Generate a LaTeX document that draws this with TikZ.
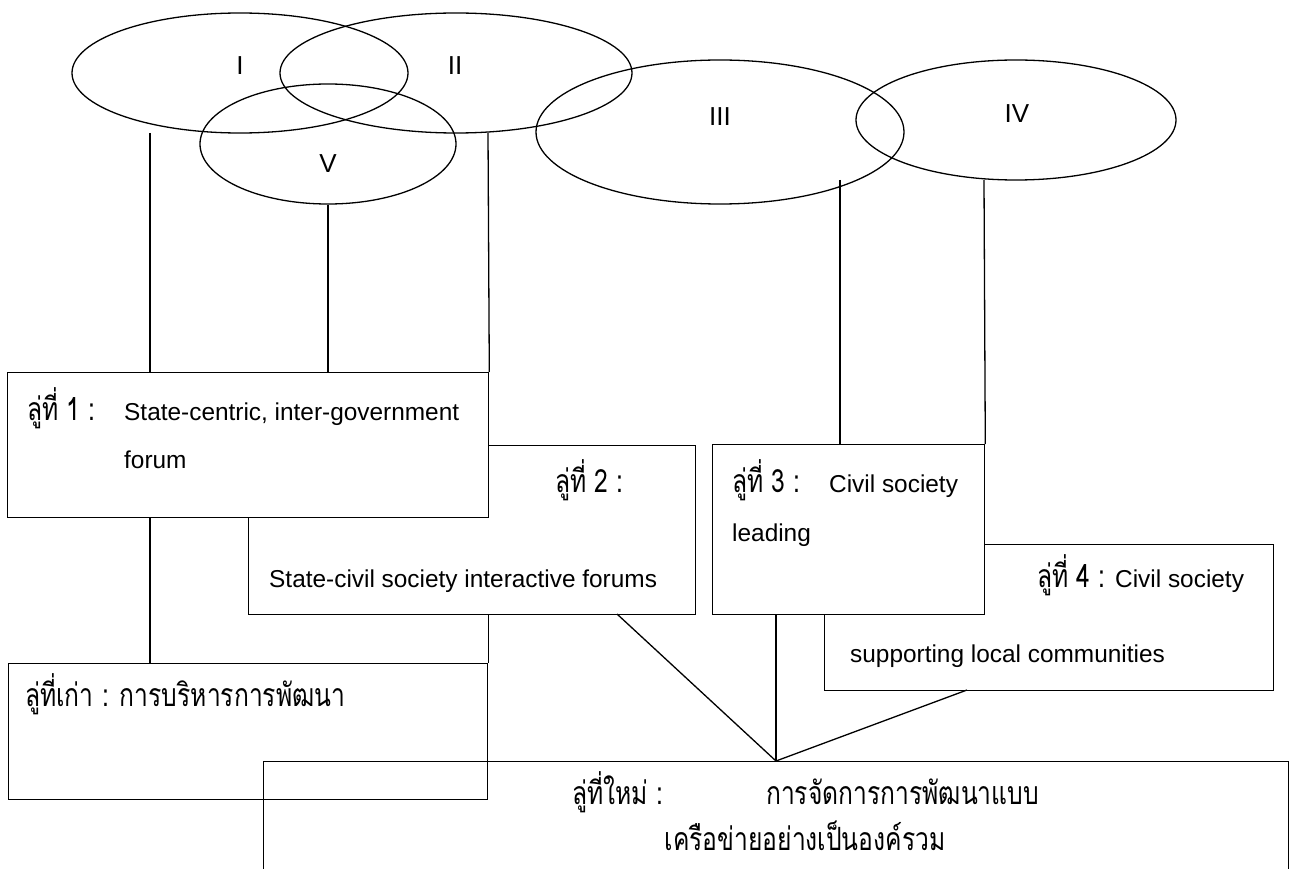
\documentclass[tikz,border=0pt]{standalone}
\usepackage{fontspec}
\setmainfont{Liberation Sans}
\newfontfamily\thaifont[Script=Thai,FakeStretch=0.77]{Loma}
\usetikzlibrary{shapes.geometric}
\begin{document}
\begin{tikzpicture}[x=1pt,y=-1pt,
  venn/.style={draw, ellipse, inner sep=0pt, line width=1.3pt},
  panel/.style={draw, rectangle, inner sep=0pt, anchor=north west, line width=1.3pt},
  wpanel/.style={panel, fill=white},
  link/.style={line width=1.3pt},
  lat/.style={anchor=base west, inner sep=0pt, font=\fontsize{24.4}{28}\selectfont},
  thai/.style={anchor=base west, inner sep=0pt, font=\thaifont\fontsize{32}{36}\selectfont},
  numeral/.style={anchor=base, inner sep=0pt, font=\fontsize{26}{30}\selectfont}]
\useasboundingbox (0,0) rectangle (1291,869);
\clip (0,0) rectangle (1291,869);

% five overlapping ellipses
\node[venn, minimum width=336pt, minimum height=120pt] (eI)   at (240,73)  {};
\node[venn, minimum width=352pt, minimum height=120pt] (eII)  at (456,73)  {};
\node[venn, minimum width=256pt, minimum height=120pt] (eV)   at (328,144) {};
\node[venn, minimum width=368pt, minimum height=144pt] (eIII) at (720,132) {};
\node[venn, minimum width=320pt, minimum height=120pt] (eIV)  at (1016,120) {};

\node[numeral] (lI)   at (240,75)  {I};
\node[numeral] (lII)  at (455,75)  {II};
\node[numeral] (lV)   at (328,173) {V};
\node[numeral] (lIII) at (720,126) {III};
\node[numeral] (lIV)  at (1017,123) {IV};

% track boxes (later ones cover earlier ones)
\node[wpanel, minimum width=447pt, minimum height=169pt] (b2) at (248,445) {};
\node[wpanel, minimum width=481pt, minimum height=145pt] (b1) at (7,372) {};
\node[wpanel, minimum width=449pt, minimum height=146pt] (b4) at (824,544) {};
\node[wpanel, minimum width=272pt, minimum height=170pt] (b3) at (712,444) {};
\node[panel, minimum width=479pt, minimum height=136pt] (bold) at (8,663) {};
\node[panel, minimum width=1025pt, minimum height=160pt] (bnew) at (263,761) {};

% free ends of the connectors
\coordinate (tI)   at (150,133);
\coordinate (tII)  at (488,133);
\coordinate (tIII) at (840,180);
\coordinate (tIV)  at (984,180);
\coordinate (f2)   at (617,614);
\coordinate (f4)   at (967,690);
\coordinate (hub)  at (776,761);

% connectors
\draw[link] (tI) -- (tI |- b1.north);
\draw[link] (eV.south) -- (eV.south |- b1.north);
\draw[link] (tII) -- (b1.north east);
\draw[link] (tIII) -- (tIII |- b3.north);
\draw[link] (tIV) -- (b3.north east);
\draw[link] (tI |- b1.south) -- (tI |- bold.north);
\draw[link] (bold.north east |- b2.south) -- (bold.north east);
\draw[link] (f2) -- (hub);
\draw[link] (hub |- b3.south) -- (hub);
\draw[link] (f4) -- (hub);

% texts
\node[thai] (t1a) at (27,420) {ลู่ที่ 1 :};
\node[lat]  (t1b) at (124,420) {State-centric, inter-government};
\node[lat]  (t1c) at (124,468) {forum};
\node[thai] (t2a) at (555,492) {ลู่ที่ 2 :};
\node[lat]  (t2b) at (269,587) {State-civil society interactive forums};
\node[thai] (t3a) at (732,492) {ลู่ที่ 3 :};
\node[lat]  (t3b) at (829,492) {Civil society};
\node[lat]  (t3c) at (732,541) {leading};
\node[thai] (t4a) at (1037,587) {ลู่ที่ 4 :};
\node[lat]  (t4b) at (1115,587) {Civil society};
\node[lat]  (t4c) at (850,662) {supporting local communities};
\node[thai] (tOld) at (25,706) {ลู่ที่เก่า : การบริหารการพัฒนา};
\node[thai] (tNa) at (572,804) {ลู่ที่ใหม่ :};
\node[thai] (tNb) at (766,804) {การจัดการการพัฒนาแบบ};
\node[thai, anchor=base] (tNc) at (805,850) {เครือข่ายอย่างเป็นองค์รวม};
\end{tikzpicture}
\end{document}
